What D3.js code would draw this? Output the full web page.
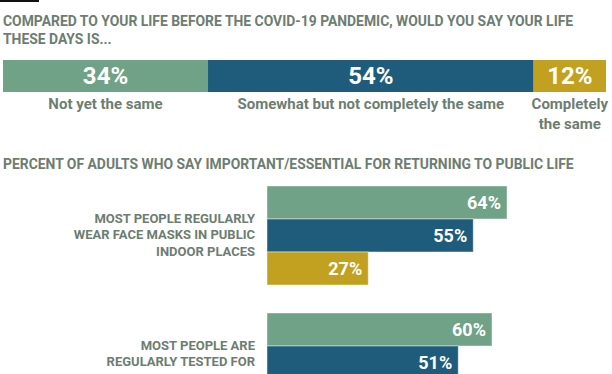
<!DOCTYPE html>
<html>
<head>
<meta charset="utf-8">
<script src="https://cdn.jsdelivr.net/npm/d3@7"></script>
<style>
  body { margin: 0; background: #fff; }
  svg { display: block; font-family: Roboto, "Noto Sans", sans-serif; }
</style>
</head>
<body>
<script>
const width = 612;
const height = 374;

// data
const titleLines = ["COMPARED TO YOUR LIFE BEFORE THE COVID-19 PANDEMIC, WOULD YOU SAY YOUR LIFE", "THESE DAYS IS..."];
const answerLines = [["Not yet the same"], ["Somewhat but not completely the same"], ["Completely", "the same"]];
const answerValues = [34, 54, 12];

const subTitle = "PERCENT OF ADULTS WHO SAY IMPORTANT/ESSENTIAL FOR RETURNING TO PUBLIC LIFE";
const conditions = ["masks", "tested"];
const conditionLines = [
  ["MOST PEOPLE REGULARLY", "WEAR FACE MASKS IN PUBLIC", "INDOOR PLACES"],
  ["MOST PEOPLE ARE", "REGULARLY TESTED FOR", "COVID-19"]
];
const seriesKeys = ["notYet", "somewhat", "completely"];
const maskValues = [64, 55, 27];
const testValues = [60, 51, null]; // third bar is cut off below the frame

const colors = ["#6fa287", "#1f5c7c", "#c2a120"];
const textColor = "#6d7d72";

const svg = d3.select("body").append("svg")
  .attr("width", width)
  .attr("height", height);

// small black rule top left
svg.append("rect")
  .attr("x", 0).attr("y", 0)
  .attr("width", 39).attr("height", 2)
  .attr("fill", "#111");

titleLines.forEach((t, i) => {
  svg.append("text")
    .attr("x", 3)
    .attr("y", 25.5 + i * 18.5)
    .attr("font-size", 13.9)
    .attr("font-weight", 700)
    .attr("fill", textColor)
    .text(t);
});

// ---- stacked top bar
const xTop = d3.scaleLinear().domain([0, 100]).range([3, 606]);
let acc = 0;
const segments = answerValues.map((v, i) => {
  const s = { i, v, x0: acc, x1: acc + v, lines: answerLines[i] };
  acc += v;
  return s;
});

const topBar = svg.append("g");
topBar.selectAll("rect")
  .data(segments)
  .enter()
  .append("rect")
  .attr("x", (d) => xTop(d.x0))
  .attr("y", 60)
  .attr("width", (d) => xTop(d.x1) - xTop(d.x0))
  .attr("height", 32)
  .attr("fill", (d) => colors[d.i]);

topBar.selectAll("text.val")
  .data(segments)
  .enter()
  .append("text")
  .attr("class", "val")
  .attr("x", (d) => (xTop(d.x0) + xTop(d.x1)) / 2)
  .attr("y", 84)
  .attr("text-anchor", "middle")
  .attr("font-size", 24)
  .attr("font-weight", 700)
  .attr("fill", "#fff")
  .text((d) => d.v + "%");

segments.forEach((d) => {
  d.lines.forEach((line, j) => {
    svg.append("text")
      .attr("x", (xTop(d.x0) + xTop(d.x1)) / 2)
      .attr("y", 109 + j * 20)
      .attr("text-anchor", "middle")
      .attr("font-size", 15)
      .attr("font-weight", 700)
      .attr("fill", textColor)
      .text(line);
  });
});

// ---- grouped bars
svg.append("text")
  .attr("x", 3)
  .attr("y", 168.5)
  .attr("font-size", 13.9)
  .attr("font-weight", 700)
  .attr("fill", textColor)
  .text(subTitle);

const x = d3.scaleLinear().domain([0, 100]).range([267, 642]);
const y0 = d3.scaleBand().domain(conditions).range([186, 412]).paddingInner(0.2205);
const y1 = d3.scaleBand().domain(seriesKeys).range([0, y0.bandwidth()]);

const rows = [maskValues, testValues];
const groups = svg.selectAll("g.group")
  .data(conditions)
  .enter()
  .append("g")
  .attr("class", "group")
  .attr("transform", (d) => `translate(0,${y0(d)})`);

groups.each(function (c, gi) {
  const g = d3.select(this);
  const bars = rows[gi]
    .map((v, i) => ({ key: seriesKeys[i], v, i }))
    .filter((d) => d.v !== null);

  g.selectAll("rect")
    .data(bars)
    .enter()
    .append("rect")
    .attr("x", x(0))
    .attr("y", (d) => y1(d.key))
    .attr("width", (d) => x(d.v) - x(0))
    .attr("height", y1.bandwidth())
    .attr("fill", (d) => colors[d.i])
    .attr("stroke", "rgba(255,255,255,0.45)")
    .attr("stroke-width", 1);

  g.selectAll("text.val")
    .data(bars)
    .enter()
    .append("text")
    .attr("class", "val")
    .attr("x", (d) => x(d.v) - 6)
    .attr("y", (d) => y1(d.key) + y1.bandwidth() / 2 + 6.5)
    .attr("text-anchor", "end")
    .attr("font-size", 18)
    .attr("font-weight", 700)
    .attr("fill", "#fff")
    .text((d) => d.v + "%");

  const lines = conditionLines[gi];
  lines.forEach((line, j) => {
    g.append("text")
      .attr("x", 255)
      .attr("y", y0.bandwidth() / 2 + 4 + (j - (lines.length - 1) / 2) * 16.7)
      .attr("text-anchor", "end")
      .attr("font-size", 13)
      .attr("font-weight", 700)
      .attr("fill", textColor)
      .text(line);
  });
});
</script>
</body>
</html>
